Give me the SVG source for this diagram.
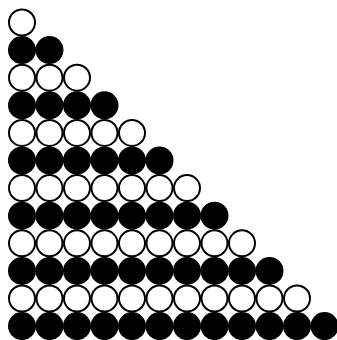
<svg xmlns="http://www.w3.org/2000/svg" width="337" height="340" viewBox="0 0 337 340">
<style>
circle{stroke:#000;stroke-width:2}
.w{fill:#fff}
.b{fill:#000}
</style>
<rect width="337" height="340" fill="#fff"/>
<g id="row1" class="w"><circle cx="22" cy="22.5" r="13"/></g>
<g id="row2" class="b"><circle cx="22" cy="50.1" r="13"/><circle cx="49.5" cy="50.1" r="13"/></g>
<g id="row3" class="w"><circle cx="22" cy="77.7" r="13"/><circle cx="49.5" cy="77.7" r="13"/><circle cx="77" cy="77.7" r="13"/></g>
<g id="row4" class="b"><circle cx="22" cy="105.3" r="13"/><circle cx="49.5" cy="105.3" r="13"/><circle cx="77" cy="105.3" r="13"/><circle cx="104.5" cy="105.3" r="13"/></g>
<g id="row5" class="w"><circle cx="22" cy="132.9" r="13"/><circle cx="49.5" cy="132.9" r="13"/><circle cx="77" cy="132.9" r="13"/><circle cx="104.5" cy="132.9" r="13"/><circle cx="132" cy="132.9" r="13"/></g>
<g id="row6" class="b"><circle cx="22" cy="160.5" r="13"/><circle cx="49.5" cy="160.5" r="13"/><circle cx="77" cy="160.5" r="13"/><circle cx="104.5" cy="160.5" r="13"/><circle cx="132" cy="160.5" r="13"/><circle cx="159.5" cy="160.5" r="13"/></g>
<g id="row7" class="w"><circle cx="22" cy="188.1" r="13"/><circle cx="49.5" cy="188.1" r="13"/><circle cx="77" cy="188.1" r="13"/><circle cx="104.5" cy="188.1" r="13"/><circle cx="132" cy="188.1" r="13"/><circle cx="159.5" cy="188.1" r="13"/><circle cx="187" cy="188.1" r="13"/></g>
<g id="row8" class="b"><circle cx="22" cy="215.7" r="13"/><circle cx="49.5" cy="215.7" r="13"/><circle cx="77" cy="215.7" r="13"/><circle cx="104.5" cy="215.7" r="13"/><circle cx="132" cy="215.7" r="13"/><circle cx="159.5" cy="215.7" r="13"/><circle cx="187" cy="215.7" r="13"/><circle cx="214.5" cy="215.7" r="13"/></g>
<g id="row9" class="w"><circle cx="22" cy="243.3" r="13"/><circle cx="49.5" cy="243.3" r="13"/><circle cx="77" cy="243.3" r="13"/><circle cx="104.5" cy="243.3" r="13"/><circle cx="132" cy="243.3" r="13"/><circle cx="159.5" cy="243.3" r="13"/><circle cx="187" cy="243.3" r="13"/><circle cx="214.5" cy="243.3" r="13"/><circle cx="242" cy="243.3" r="13"/></g>
<g id="row10" class="b"><circle cx="22" cy="270.9" r="13"/><circle cx="49.5" cy="270.9" r="13"/><circle cx="77" cy="270.9" r="13"/><circle cx="104.5" cy="270.9" r="13"/><circle cx="132" cy="270.9" r="13"/><circle cx="159.5" cy="270.9" r="13"/><circle cx="187" cy="270.9" r="13"/><circle cx="214.5" cy="270.9" r="13"/><circle cx="242" cy="270.9" r="13"/><circle cx="269.5" cy="270.9" r="13"/></g>
<g id="row11" class="w"><circle cx="22" cy="298.5" r="13"/><circle cx="49.5" cy="298.5" r="13"/><circle cx="77" cy="298.5" r="13"/><circle cx="104.5" cy="298.5" r="13"/><circle cx="132" cy="298.5" r="13"/><circle cx="159.5" cy="298.5" r="13"/><circle cx="187" cy="298.5" r="13"/><circle cx="214.5" cy="298.5" r="13"/><circle cx="242" cy="298.5" r="13"/><circle cx="269.5" cy="298.5" r="13"/><circle cx="297" cy="298.5" r="13"/></g>
<g id="row12" class="b"><circle cx="22" cy="326.1" r="13"/><circle cx="49.5" cy="326.1" r="13"/><circle cx="77" cy="326.1" r="13"/><circle cx="104.5" cy="326.1" r="13"/><circle cx="132" cy="326.1" r="13"/><circle cx="159.5" cy="326.1" r="13"/><circle cx="187" cy="326.1" r="13"/><circle cx="214.5" cy="326.1" r="13"/><circle cx="242" cy="326.1" r="13"/><circle cx="269.5" cy="326.1" r="13"/><circle cx="297" cy="326.1" r="13"/><circle cx="324.5" cy="326.1" r="13"/></g>
</svg>
